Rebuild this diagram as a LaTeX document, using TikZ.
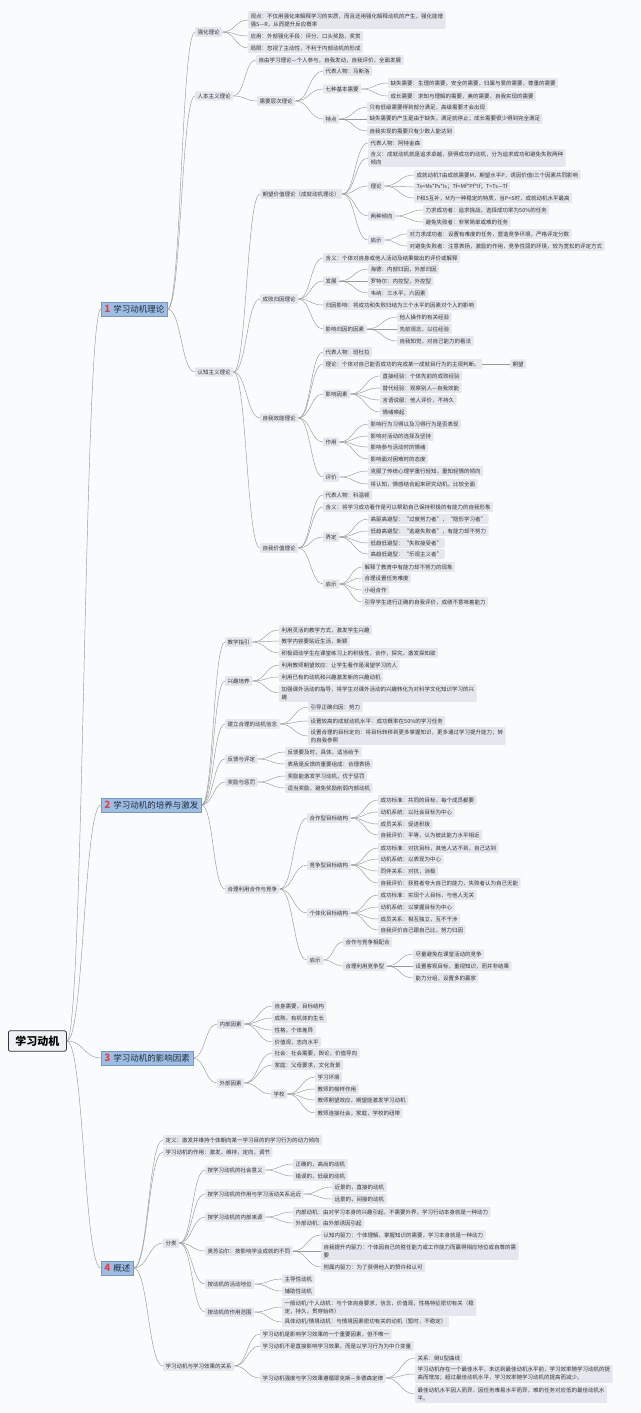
\documentclass[tikz,border=0pt]{standalone}
\usepackage{fontspec}
\newfontfamily\cjk{Noto Sans CJK SC}
\usetikzlibrary{calc}
\definecolor{bg}{HTML}{FAFBFC}
\definecolor{boxc}{HTML}{E4E8EE}
\definecolor{linec}{HTML}{9A9A9A}
\definecolor{txt}{HTML}{333333}
\definecolor{mainfill}{HTML}{9FBDE3}
\definecolor{maindraw}{HTML}{7898C4}
\definecolor{maintxt}{HTML}{1F2D3D}
\definecolor{numred}{HTML}{D9454A}
\definecolor{rootfill}{HTML}{EEF1F5}
\tikzset{
 leaf/.style={anchor=west, fill=boxc, text=txt, font=\cjk\fontsize{5.5}{8}\selectfont, inner xsep=2.5pt, inner ysep=2.2pt, align=left, rounded corners=0.8pt},
 mainn/.style={anchor=west, fill=mainfill, draw=maindraw, line width=0.5pt, text=maintxt, font=\cjk\fontsize{8.5}{10}\selectfont, inner xsep=3pt, inner ysep=3pt},
 rootn/.style={anchor=west, fill=rootfill, draw=txt, line width=0.8pt, text=black, font=\cjk\bfseries\fontsize{11}{13}\selectfont, inner xsep=7pt, inner ysep=5pt, rounded corners=2pt},
 conn/.style={draw=linec, line width=0.45pt},
}
\newcommand\cn[2]{\draw[conn] let \p1=(#1.east), \p2=(#2.west), \n1={0.5*(\x2-\x1)} in (\p1) .. controls (\x1+\n1,\y1) and (\x2-\n1,\y2) .. (\p2);}
\newcommand\num[1]{{\color{numred}\fontsize{10}{10}\selectfont\bfseries #1}\hspace{3pt}}
\begin{document}
\begin{tikzpicture}[x=1pt,y=-1pt]
\useasboundingbox (0,0) rectangle (640,1413);
\fill[bg] (0,0) rectangle (640,1413);

% root
\node[rootn] (root) at (8,1041) {学习动机};

% ===== Section 1
\node[mainn] (m1) at (101,309) {\num{1}学习动机理论};
\node[leaf] (s1a) at (195,32) {强化理论};
\node[leaf] (s1a1) at (248,20) {观点：不仅用强化来解释学习的实质，而且还用强化解释动机的产生，强化能增\\强S—R，从而提升反应概率};
\node[leaf] (s1a2) at (248,36) {应用：外部强化手段：评分，口头奖励，奖赏};
\node[leaf] (s1a3) at (248,48) {局限：忽视了主动性，不利于内部动机的形成};
\node[leaf] (s1b) at (195,96) {人本主义理论};
\node[leaf] (s1b1) at (256,60) {自由学习理论—个人参与，自我发动，自我评价，全面发展};
\node[leaf] (s1b2) at (257,101) {需要层次理论};
\node[leaf] (s1b2a) at (323,71) {代表人物：马斯洛};
\node[leaf] (s1b2b) at (323,89) {七种基本需要};
\node[leaf] (s1b2b1) at (388,83) {缺失需要：生理的需要，安全的需要，归属与爱的需要，尊重的需要};
\node[leaf] (s1b2b2) at (388,96) {成长需要：求知与理解的需要，美的需要，自我实现的需要};
\node[leaf] (s1b2c) at (323,119) {特点};
\node[leaf] (s1b2c1) at (367,107) {只有低级需要得到部分满足，高级需要才会出现};
\node[leaf] (s1b2c2) at (367,119) {缺失需要的产生是由于缺失，满足就停止；成长需要很少得到完全满足};
\node[leaf] (s1b2c3) at (367,131) {自我实现的需要只有少数人能达到};

\node[leaf] (s1c) at (195,372) {认知主义理论};
\node[leaf] (s1c1) at (260,194) {期望价值理论（成就动机理论）};
\node[leaf] (s1c1a) at (368,143) {代表人物：阿特金森};
\node[leaf] (s1c1b) at (368,158) {含义：成就动机就是追求卓越，获得成功的动机，分为追求成功和避免失败两种\\倾向};
\node[leaf] (s1c1c) at (368,186) {理论};
\node[leaf] (s1c1c1) at (414,175) {成就动机T由成就需要M，期望水平P，诱因价值I三个因素共同影响};
\node[leaf] (s1c1c2) at (414,187) {Ts=Ms*Ps*Is；Tf=Mf*Pf*If；T=Ts—Tf};
\node[leaf] (s1c1c3) at (414,198) {P和S互补，M为一种稳定的特质，当P=S时，成就动机水平最高};
\node[leaf] (s1c1d) at (368,216) {两种倾向};
\node[leaf] (s1c1d1) at (423,210) {力求成功者：追求挑战，选择成功率为50\%的任务};
\node[leaf] (s1c1d2) at (423,222) {避免失败者：非常简单或难的任务};
\node[leaf] (s1c1e) at (368,240) {启示};
\node[leaf] (s1c1e1) at (407,234) {对力求成功者：设置有难度的任务，营造竞争环境，严格评定分数};
\node[leaf] (s1c1e2) at (407,246) {对避免失败者：注意表扬，激励的作用，竞争性弱的环境，较为宽松的评定方式};

\node[leaf] (s1c2) at (260,299) {成败归因理论};
\node[leaf] (s1c2a) at (323,258) {含义：个体对自身或他人活动及结果做出的评价或解释};
\node[leaf] (s1c2b) at (323,281) {发展};
\node[leaf] (s1c2b1) at (368,269) {海德：内部归因，外部归因};
\node[leaf] (s1c2b2) at (368,281) {罗特尔：内控型，外控型};
\node[leaf] (s1c2b3) at (368,293) {韦纳：三水平，六因素};
\node[leaf] (s1c2c) at (323,305) {归因影响：将成功和失败归结为三个水平的因素对个人的影响};
\node[leaf] (s1c2d) at (323,329) {影响归因的因素};
\node[leaf] (s1c2d1) at (397,317) {他人操作的有关经验};
\node[leaf] (s1c2d2) at (397,329) {先前观念，以往经验};
\node[leaf] (s1c2d3) at (397,341) {自我知觉，对自己能力的看法};

\node[leaf] (s1c3) at (260,418) {自我效能理论};
\node[leaf] (s1c3a) at (323,352) {代表人物：班杜拉};
\node[leaf] (s1c3b) at (323,364) {理论：个体对自己能否成功的完成某一成就目行为的主观判断。};
\node[leaf] (s1c3b1) at (510,364) {期望};
\node[leaf] (s1c3c) at (323,394) {影响因素};
\node[leaf] (s1c3c1) at (380,376) {直接经验：个体先前的成败经验};
\node[leaf] (s1c3c2) at (380,388) {替代经验：观察别人—自我效能};
\node[leaf] (s1c3c3) at (380,400) {言语说服：他人评价，不持久};
\node[leaf] (s1c3c4) at (380,412) {情绪唤起};
\node[leaf] (s1c3d) at (323,442) {作用};
\node[leaf] (s1c3d1) at (368,424) {影响行为习得以及习得行为是否表现};
\node[leaf] (s1c3d2) at (368,436) {影响对活动的选择及坚持};
\node[leaf] (s1c3d3) at (368,447) {影响参与活动时的情绪};
\node[leaf] (s1c3d4) at (368,459) {影响面对困难时的态度};
\node[leaf] (s1c3e) at (323,477) {评价};
\node[leaf] (s1c3e1) at (368,471) {克服了传统心理学重行轻知，重知轻情的倾向};
\node[leaf] (s1c3e2) at (368,484) {将认知，情感结合起来研究动机，比较全面};

\node[leaf] (s1c4) at (260,548) {自我价值理论};
\node[leaf] (s1c4a) at (323,495) {代表人物：科温顿};
\node[leaf] (s1c4b) at (323,507) {含义：将学习成功看作是可以帮助自己保持积极的有能力的自我形象};
\node[leaf] (s1c4c) at (323,537) {界定};
\node[leaf] (s1c4c1) at (368,519) {高驱高避型：“过度努力者”，“隐形学习者”};
\node[leaf] (s1c4c2) at (368,531) {低趋高避型：“逃避失败者”，有能力却不努力};
\node[leaf] (s1c4c3) at (368,543) {低趋低避型：“失败接受者”};
\node[leaf] (s1c4c4) at (368,554) {高趋低避型：“乐观主义者”};
\node[leaf] (s1c4d) at (323,584) {启示};
\node[leaf] (s1c4d1) at (362,567) {解释了教育中有能力却不努力的现象};
\node[leaf] (s1c4d2) at (362,578) {合理设置任务难度};
\node[leaf] (s1c4d3) at (362,590) {小组合作};
\node[leaf] (s1c4d4) at (362,602) {引导学生进行正确的自我评价，成绩不意味着能力};

% ===== Section 2
\node[mainn] (m2) at (101,805) {\num{2}学习动机的培养与激发};
\node[leaf] (s2a) at (225,642) {教学指引};
\node[leaf] (s2a1) at (279,630) {利用灵活的教学方式，激发学生兴趣};
\node[leaf] (s2a2) at (279,641) {教学内容要贴近生活，新颖};
\node[leaf] (s2a3) at (279,653) {积极调动学生在课堂练习上的积极性，合作，探究，激发探知欲};
\node[leaf] (s2b) at (225,681) {兴趣培养};
\node[leaf] (s2b1) at (279,665) {利用教师期望效应：让学生看作是渴望学习的人};
\node[leaf] (s2b2) at (279,677) {利用已有的动机和兴趣激发新的兴趣动机};
\node[leaf] (s2b3) at (279,693) {加强课外活动的指导，将学生对课外活动的兴趣转化为对科学文化知识学习的兴\\趣};
\node[leaf] (s2c) at (225,724) {建立合理的动机信念};
\node[leaf] (s2c1) at (308,707) {引导正确归因：努力};
\node[leaf] (s2c2) at (308,721) {设置较高的成就动机水平：成功概率在50\%的学习任务};
\node[leaf] (s2c3) at (308,736) {设置合理的目标定向：将目标转移到更多掌握知识，更多通过学习提升能力；转\\向自我参照};
\node[leaf] (s2d) at (225,759) {反馈与评定};
\node[leaf] (s2d1) at (285,752) {反馈要及时，具体，适当给予};
\node[leaf] (s2d2) at (285,764) {表扬是反馈的重要组成：合理表扬};
\node[leaf] (s2e) at (225,782) {奖励与惩罚};
\node[leaf] (s2e1) at (285,776) {奖励能激发学习动机，优于惩罚};
\node[leaf] (s2e2) at (285,788) {适当奖励，避免奖励削弱内部动机};
\node[leaf] (s2f) at (225,889) {合理利用合作与竞争};
\node[leaf] (s2f1) at (307,818) {合作型目标结构};
\node[leaf] (s2f1a) at (378,800) {成功标准：共同的目标，每个成员都要};
\node[leaf] (s2f1b) at (378,812) {动机系统：以社会目标为中心};
\node[leaf] (s2f1c) at (378,824) {成员关系：促进积极};
\node[leaf] (s2f1d) at (378,835) {自我评价：平等，认为彼此能力水平相近};
\node[leaf] (s2f2) at (307,865) {竞争型目标结构};
\node[leaf] (s2f2a) at (378,848) {成功标准：对抗目标，其他人达不到，自己达到};
\node[leaf] (s2f2b) at (378,859) {动机系统：以表现为中心};
\node[leaf] (s2f2c) at (378,871) {同伴关系：对抗，消极};
\node[leaf] (s2f2d) at (378,883) {自我评价：获胜者夸大自己的能力，失败者认为自己无能};
\node[leaf] (s2f3) at (307,913) {个体化目标结构};
\node[leaf] (s2f3a) at (378,895) {成功标准：实现个人目标，与他人无关};
\node[leaf] (s2f3b) at (378,907) {动机系统：以掌握目标为中心};
\node[leaf] (s2f3c) at (378,919) {成员关系：相互独立，互不干涉};
\node[leaf] (s2f3d) at (378,930) {自我评价自己跟自己比，努力归因};
\node[leaf] (s2f4) at (307,960) {启示};
\node[leaf] (s2f4a) at (343,942) {合作与竞争相配合};
\node[leaf] (s2f4b) at (343,966) {合理利用竞争型};
\node[leaf] (s2f4b1) at (413,954) {尽量避免在课堂活动的竞争};
\node[leaf] (s2f4b2) at (413,966) {设置客观目标，重视知识，而并非结果};
\node[leaf] (s2f4b3) at (413,978) {能力分组，设置多的赢家};

% ===== Section 3
\node[mainn] (m3) at (101,1058) {\num{3}学习动机的影响因素};
\node[leaf] (s3a) at (217,1024) {内部因素};
\node[leaf] (s3a1) at (272,1006) {自身需要，目标结构};
\node[leaf] (s3a2) at (272,1018) {成熟，有机体的生长};
\node[leaf] (s3a3) at (272,1030) {性格，个体差异};
\node[leaf] (s3a4) at (272,1042) {价值观，志向水平};
\node[leaf] (s3b) at (217,1083) {外部因素};
\node[leaf] (s3b1) at (272,1053) {社会：社会需要，舆论，价值导向};
\node[leaf] (s3b2) at (272,1065) {家庭：父母要求，文化背景};
\node[leaf] (s3b3) at (271,1094) {学校};
\node[leaf] (s3b3a) at (315,1077) {学习环境};
\node[leaf] (s3b3b) at (315,1089) {教师的榜样作用};
\node[leaf] (s3b3c) at (315,1100) {教师期望效应，期望能激发学习动机};
\node[leaf] (s3b3d) at (315,1113) {教师连接社会，家庭，学校的纽带};

% ===== Section 4
\node[mainn] (m4) at (101,1268) {\num{4}概述};
\node[leaf] (s4a) at (163,1140) {定义：激发并维持个体朝向某一学习目的的学习行为的动力倾向};
\node[leaf] (s4b) at (163,1152) {学习动机的作用：激发，维持，定向，调节};
\node[leaf] (s4c) at (163,1243) {分类};
\node[leaf] (s4c1) at (205,1170) {按学习动机的社会意义};
\node[leaf] (s4c1a) at (293,1164) {正确的，高尚的动机};
\node[leaf] (s4c1b) at (293,1176) {错误的，低级的动机};
\node[leaf] (s4c2) at (205,1194) {按学习动机的作用与学习活动关系远近};
\node[leaf] (s4c2a) at (332,1187) {近景的，直接的动机};
\node[leaf] (s4c2b) at (332,1199) {远景的，间接的动机};
\node[leaf] (s4c3) at (205,1217) {按学习动机的内部来源};
\node[leaf] (s4c3a) at (293,1212) {内部动机：由对学习本身的兴趣引起，不需要外界，学习行动本身就是一种动力};
\node[leaf] (s4c3b) at (293,1223) {外部动机：由外部诱因引起};
\node[leaf] (s4c4) at (205,1251) {奥苏泊尔：按影响学业成就的不同};
\node[leaf] (s4c4a) at (321,1235) {认知内驱力：个体理解，掌握知识的需要，学习本身就是一种动力};
\node[leaf] (s4c4b) at (321,1251) {自我提升内驱力：个体因自己的胜任能力或工作能力而赢得相应地位或自尊的需\\要};
\node[leaf] (s4c4c) at (321,1267) {附属内驱力：为了获得他人的赞许和认可};
\node[leaf] (s4c5) at (205,1284) {按动机的活动地位};
\node[leaf] (s4c5a) at (282,1279) {主导性动机};
\node[leaf] (s4c5b) at (282,1291) {辅助性动机};
\node[leaf] (s4c6) at (205,1312) {按动机的作用范围};
\node[leaf] (s4c6a) at (282,1307) {一般动机/个人动机：与个体自身要求，信念，价值观，性格特征密切有关（稳\\定，持久，贯穿始终）};
\node[leaf] (s4c6b) at (282,1322) {具体动机/情境动机：与情境因素密切有关的动机（暂时，不稳定）};
\node[leaf] (s4d) at (163,1366) {学习动机与学习效果的关系};
\node[leaf] (s4d1) at (260,1334) {学习动机是影响学习效果的一个重要因素，但不唯一};
\node[leaf] (s4d2) at (260,1346) {学习动机不是直接影响学习效果，而是以学习行为为中介变量};
\node[leaf] (s4d3) at (260,1378) {学习动机强度与学习效果遵循耶克斯—多德森定律};
\node[leaf] (s4d3a) at (415,1358) {关系：倒U型曲线};
\node[leaf] (s4d3b) at (415,1374) {学习动机存在一个最佳水平，未达到最佳动机水平前，学习效率随学习动机的提\\高而增加；超过最佳动机水平，学习效率随学习动机的提高而减少。};
\node[leaf] (s4d3c) at (415,1394) {最佳动机水平因人而异，因任务难易水平而异，难的任务对应低的最佳动机水\\平。};

% ===== connectors
\foreach \a/\b in {root/m1,root/m2,root/m3,root/m4,
 m1/s1a,m1/s1b,m1/s1c,
 s1a/s1a1,s1a/s1a2,s1a/s1a3,
 s1b/s1b1,s1b/s1b2,s1b2/s1b2a,s1b2/s1b2b,s1b2/s1b2c,
 s1b2b/s1b2b1,s1b2b/s1b2b2,s1b2c/s1b2c1,s1b2c/s1b2c2,s1b2c/s1b2c3,
 s1c/s1c1,s1c/s1c2,s1c/s1c3,s1c/s1c4,
 s1c1/s1c1a,s1c1/s1c1b,s1c1/s1c1c,s1c1/s1c1d,s1c1/s1c1e,
 s1c1c/s1c1c1,s1c1c/s1c1c2,s1c1c/s1c1c3,s1c1d/s1c1d1,s1c1d/s1c1d2,s1c1e/s1c1e1,s1c1e/s1c1e2,
 s1c2/s1c2a,s1c2/s1c2b,s1c2/s1c2c,s1c2/s1c2d,
 s1c2b/s1c2b1,s1c2b/s1c2b2,s1c2b/s1c2b3,s1c2d/s1c2d1,s1c2d/s1c2d2,s1c2d/s1c2d3,
 s1c3/s1c3a,s1c3/s1c3b,s1c3/s1c3c,s1c3/s1c3d,s1c3/s1c3e,s1c3b/s1c3b1,
 s1c3c/s1c3c1,s1c3c/s1c3c2,s1c3c/s1c3c3,s1c3c/s1c3c4,
 s1c3d/s1c3d1,s1c3d/s1c3d2,s1c3d/s1c3d3,s1c3d/s1c3d4,s1c3e/s1c3e1,s1c3e/s1c3e2,
 s1c4/s1c4a,s1c4/s1c4b,s1c4/s1c4c,s1c4/s1c4d,
 s1c4c/s1c4c1,s1c4c/s1c4c2,s1c4c/s1c4c3,s1c4c/s1c4c4,
 s1c4d/s1c4d1,s1c4d/s1c4d2,s1c4d/s1c4d3,s1c4d/s1c4d4,
 m2/s2a,m2/s2b,m2/s2c,m2/s2d,m2/s2e,m2/s2f,
 s2a/s2a1,s2a/s2a2,s2a/s2a3,s2b/s2b1,s2b/s2b2,s2b/s2b3,
 s2c/s2c1,s2c/s2c2,s2c/s2c3,s2d/s2d1,s2d/s2d2,s2e/s2e1,s2e/s2e2,
 s2f/s2f1,s2f/s2f2,s2f/s2f3,s2f/s2f4,
 s2f1/s2f1a,s2f1/s2f1b,s2f1/s2f1c,s2f1/s2f1d,
 s2f2/s2f2a,s2f2/s2f2b,s2f2/s2f2c,s2f2/s2f2d,
 s2f3/s2f3a,s2f3/s2f3b,s2f3/s2f3c,s2f3/s2f3d,
 s2f4/s2f4a,s2f4/s2f4b,s2f4b/s2f4b1,s2f4b/s2f4b2,s2f4b/s2f4b3,
 m3/s3a,m3/s3b,s3a/s3a1,s3a/s3a2,s3a/s3a3,s3a/s3a4,
 s3b/s3b1,s3b/s3b2,s3b/s3b3,s3b3/s3b3a,s3b3/s3b3b,s3b3/s3b3c,s3b3/s3b3d,
 m4/s4a,m4/s4b,m4/s4c,m4/s4d,
 s4c/s4c1,s4c/s4c2,s4c/s4c3,s4c/s4c4,s4c/s4c5,s4c/s4c6,
 s4c1/s4c1a,s4c1/s4c1b,s4c2/s4c2a,s4c2/s4c2b,s4c3/s4c3a,s4c3/s4c3b,
 s4c4/s4c4a,s4c4/s4c4b,s4c4/s4c4c,s4c5/s4c5a,s4c5/s4c5b,s4c6/s4c6a,s4c6/s4c6b,
 s4d/s4d1,s4d/s4d2,s4d/s4d3,s4d3/s4d3a,s4d3/s4d3b,s4d3/s4d3c}
 {\cn{\a}{\b}}
\end{tikzpicture}
\end{document}
